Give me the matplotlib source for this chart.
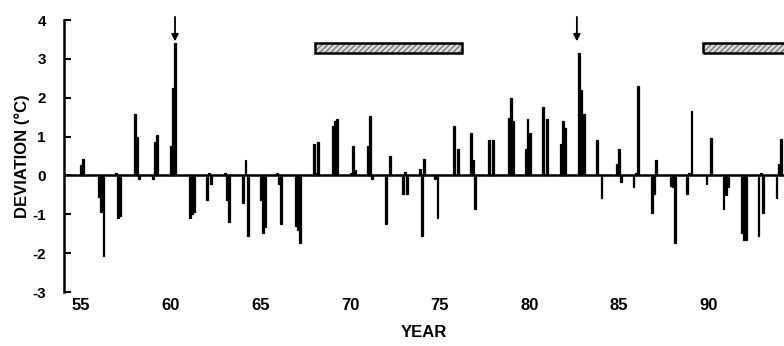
import matplotlib
matplotlib.use("Agg")
import matplotlib.pyplot as plt
from matplotlib.patches import Rectangle

plt.rcParams['font.family'] = ['Liberation Sans', 'DejaVu Sans']

# Winter clusters (decimal year, 1900s) and three monthly deviations each (°C)
cluster_year = [55.13, 56.13, 57.06, 58.12, 59.12, 60.14, 61.19, 62.13, 63.14, 64.17,
                65.16, 66.05, 67.11, 68.10, 69.16, 70.18, 71.11, 72.11, 73.06, 74.02,
                74.88, 75.90, 76.87, 77.87, 78.97, 79.90, 80.86, 81.88, 82.91, 83.90,
                84.99, 85.93, 86.94, 88.00, 88.92, 90.00, 90.95, 91.96, 92.90, 93.90]
month1 = [0.28, -0.55, 0.05, 1.57, -0.10, 0.77, -1.10, -0.62, 0.05, -0.70,
          -0.62, 0.07, -1.30, 0.80, 1.26, 0.05, 0.75, -1.26, -0.49, 0.17,
          -0.10, 1.28, 1.08, 0.90, 1.49, 0.69, 1.77, 0.80, 3.16, 0.90,
          0.30, -0.31, -0.96, -0.28, -0.49, -0.21, -0.87, -1.47, -1.56, -0.57]
month2 = [0.41, -0.95, -1.10, 0.98, 0.87, 2.26, -1.00, 0.05, -0.62, 0.39,
          -1.47, -0.23, -1.40, 0.05, 1.39, 0.77, 1.54, 0.02, 0.10, -1.57,
          -1.10, 0.02, 0.40, 0.02, 1.98, 1.46, 0.02, 1.41, 2.20, 0.00,
          0.69, 0.05, -0.49, -0.30, 0.05, 0.02, -0.50, -1.65, 0.05, 0.30]
month3 = [0.02, -2.08, -1.05, -0.10, 1.05, 3.42, -0.95, -0.23, -1.20, -1.57,
          -1.34, -1.26, -1.73, 0.87, 1.46, 0.15, -0.10, 0.51, -0.49, 0.41,
          0.02, 0.69, -0.87, 0.92, 1.39, 1.10, 1.46, 1.23, 1.57, -0.59,
          -0.18, 2.31, 0.39, -1.73, 1.67, 0.97, -0.30, -1.65, -0.96, 0.95]

xtick_vals = [55, 60, 65, 70, 75, 80, 85, 90]
ytick_vals = [-3, -2, -1, 0, 1, 2, 3, 4]
arrow_years = [60.24, 82.65]
bar_periods = [(68.04, 76.24), (89.67, 95.0)]

fig = plt.figure(figsize=(7.84, 3.46), dpi=100)
ax = fig.add_axes([64 / 784, 1 - 292 / 346, 1 - 64 / 784, (292 - 20) / 346])

off = 0.12
w = 0.10
for series, d in ((month1, -off), (month2, 0.0), (month3, off)):
    ax.bar([c + d for c in cluster_year], series, width=w, color='black',
           edgecolor='black', linewidth=0.9)

ax.axhline(0, color='black', lw=1.8, zorder=3)

ax.set_xlim(54.05, 94.2)
ax.set_ylim(-3, 4)

for (x0, x1) in bar_periods:
    ax.add_patch(Rectangle((x0, 3.16), x1 - x0, 0.26, facecolor='#dcdcdc',
                           edgecolor='#7a7a7a', hatch='//////', lw=0, clip_on=False))
    ax.add_patch(Rectangle((x0, 3.16), x1 - x0, 0.26, facecolor='none',
                           edgecolor='black', lw=1.8, clip_on=False))

for xa in arrow_years:
    ax.annotate('', xy=(xa, 3.45), xytext=(xa, 4.08),
                arrowprops=dict(arrowstyle='-|>', color='black', lw=1.3,
                                mutation_scale=10, shrinkA=0, shrinkB=0),
                annotation_clip=False)

for s in ('top', 'right', 'bottom'):
    ax.spines[s].set_visible(False)
ax.spines['left'].set_linewidth(1.8)

ax.set_yticks(ytick_vals)
ax.set_yticklabels([str(v) for v in ytick_vals], fontsize=11, fontweight='bold')
ax.tick_params(axis='y', direction='in', length=5, width=1.5, pad=13)
ax.set_xticks(xtick_vals)
ax.set_xticklabels([str(v) for v in xtick_vals], fontsize=12, fontweight='bold')
ax.tick_params(axis='x', length=0, pad=4)

ax.set_xlabel('YEAR', fontsize=12, fontweight='bold', labelpad=9)
ax.set_ylabel('DEVIATION (°C)', fontsize=12, fontweight='bold', labelpad=2)

fig.savefig('out.png', dpi=100)
